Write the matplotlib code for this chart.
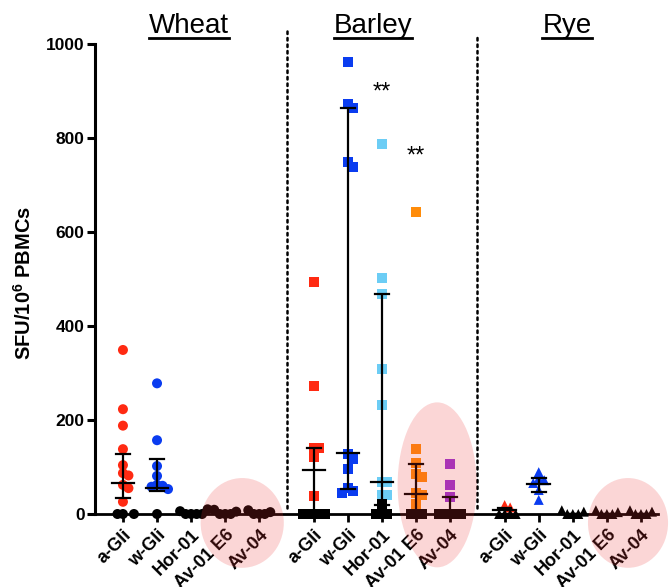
import numpy as np
import matplotlib as mpl
import matplotlib.pyplot as plt
from matplotlib.patches import Ellipse
from matplotlib.lines import Line2D

# categories per grain
grains = ['Wheat', 'Barley', 'Rye']
peptides = ['a-Gli', 'w-Gli', 'Hor-01', 'Av-01 E6', 'Av-04']
pep_colors = ['#ff2a12', '#0a3cf0', '#6ccdf5', '#ff8c0a', '#9a36d6']
grain_markers = ['o', 's', '^']

# coloured responders and black (non-responder) values, SFU/10^6 PBMCs
wheat_vals = [[349, 223, 188, 138, 104, 87, 82, 62, 55, 26],
              [278, 157, 102, 81, 62, 60, 58, 53],
              [], [], []]
wheat_black = [[0, 0, 0], [0], [0, 0, 0, 0, 6, 10],
               [0, 0, 0, 5, 9], [0, 0, 0, 4, 8]]
barley_vals = [[494, 272, 141, 140, 121, 38],
               [961, 872, 863, 750, 739, 128, 117, 96, 55, 48, 45],
               [787, 503, 468, 308, 232, 69, 68, 40, 40],
               [642, 138, 108, 85, 79, 45, 40, 21],
               [106, 62, 37]]
barley_black = [[0, 0, 0, 0, 0], [], [21, 0, 0, 0], [0, 0, 0], [0, 0, 0, 0, 0]]
rye_vals = [[19, 14], [89, 76, 72, 66, 51, 30], [], [], []]
rye_black = [[0, 0, 0, 0], [], [0, 0, 0, 5, 8],
             [0, 0, 0, 4, 8], [0, 0, 0, 5, 8]]

# median and interquartile range
wheat_median = [67, 56, 0, 0, 0]
wheat_q1 = [34, 48, 0, 0, 0]
wheat_q3 = [128, 116, 0, 0, 0]
barley_median = [94, 130, 68, 42, 0]
barley_q1 = [0, 54, 20, 0, 0]
barley_q3 = [141, 863, 468, 106, 36]
rye_median = [8, 63, 0, 0, 0]
rye_q1 = [0, 47, 0, 0, 0]
rye_q3 = [12, 76, 0, 0, 0]

# significance marks (grain index, peptide index, height)
sig_marks = [(1, 2, 896), (1, 3, 760)]

all_vals = [wheat_vals, barley_vals, rye_vals]
all_black = [wheat_black, barley_black, rye_black]
all_median = [wheat_median, barley_median, rye_median]
all_q1 = [wheat_q1, barley_q1, rye_q1]
all_q3 = [wheat_q3, barley_q3, rye_q3]

group_step = 5.6
title_x = [1.94, 7.34, 13.03]

mpl.rcParams['font.family'] = 'Liberation Sans'
mpl.rcParams['mathtext.fontset'] = 'custom'
mpl.rcParams['mathtext.rm'] = 'Liberation Sans'
mpl.rcParams['mathtext.bf'] = 'Liberation Sans:bold'

W, H = 669, 587
fig = plt.figure(figsize=(W / 100, H / 100), dpi=100)
ax = fig.add_axes([95 / W, 1 - 514 / H, (658 - 95) / W, (514 - 44) / H])
ax.set_xlim(-0.82, 15.7)
ax.set_ylim(0, 1000)

for s in ['top', 'right']:
    ax.spines[s].set_visible(False)
ax.spines['left'].set_linewidth(2.2)
ax.spines['bottom'].set_linewidth(2.0)

positions = [g * group_step + i for g in range(3) for i in range(5)]
ax.set_xticks(positions)
ax.set_xticklabels(peptides * 3, rotation=45, ha='right', rotation_mode='anchor',
                   fontsize=13, fontweight='bold')
ax.set_yticks(range(0, 1001, 200))
ax.set_yticklabels([str(v) for v in range(0, 1001, 200)], fontsize=12.5, fontweight='bold')
ax.tick_params(axis='y', length=6, width=2.2, pad=1.5)
ax.tick_params(axis='x', length=6, width=2.0, pad=3)


def swarm(xc, vals, d):
    # simple deterministic beeswarm in pixel space
    pts = ax.transData.transform(np.column_stack([np.full(len(vals), xc), vals]))
    placed = []
    for px, py in pts:
        for k in range(60):
            off = ((k + 1) // 2) * d * (1 if k % 2 else -1)
            cand = px + off
            if all((cand - qx) ** 2 + (py - qy) ** 2 >= d * d for qx, qy in placed):
                break
        placed.append((cand, py))
    placed = np.array(placed).reshape(-1, 2)
    return ax.transData.inverted().transform(placed)[:, 0]


msize = 7.2
for g in range(3):
    for i in range(5):
        xc = g * group_step + i
        cv = all_vals[g][i]
        bv = all_black[g][i]
        vals = list(cv) + list(bv)
        cols = [pep_colors[i]] * len(cv) + ['black'] * len(bv)
        if vals:
            xs = swarm(xc, vals, 5.5)
            ax.scatter(xs, vals, s=msize ** 2, marker=grain_markers[g], c=cols,
                       linewidths=0, zorder=3, clip_on=False)
        med, lo, hi = all_median[g][i], all_q1[g][i], all_q3[g][i]
        ax.plot([xc, xc], [lo, hi], color='black', lw=1.6, zorder=4,
                solid_capstyle='butt', clip_on=False)
        ax.plot([xc - 0.33, xc + 0.33], [med, med], color='black', lw=1.6, zorder=4, clip_on=False)
        for v in (lo, hi):
            ax.plot([xc - 0.2, xc + 0.2], [v, v], color='black', lw=1.6, zorder=4, clip_on=False)

# dotted separators between grains
for g in range(2):
    xs = g * group_step + 4 + (group_step - 4) / 2
    ax.plot([xs, xs], [12, 1030 - g * 8], color='black', lw=1.8, ls=(0, (1, 1.6)),
            dash_capstyle='round', zorder=2, clip_on=False)

for g, pi, h in sig_marks:
    ax.text(g * group_step + pi, h, '**', ha='center', va='center', fontsize=17)

# pink highlight ellipses over the Av peptides
ell_specs = [(0, -19, 2.44, 191), (1, 62, 2.32, 351), (2, -19, 2.35, 191)]
for g, yc, w, h in ell_specs:
    xc = g * group_step + 3.5 + (0.12 if g else 0)
    e = Ellipse((xc, yc), w, h, facecolor='#ee3333', alpha=0.2, edgecolor='none',
                zorder=10, clip_on=False)
    ax.add_patch(e)

fig.text(24 / W, 1 - 283 / H, r'SFU/10$^{\mathbf{6}}$ PBMCs', rotation=90,
         ha='center', va='center', fontsize=14.5, fontweight='bold')

renderer = fig.canvas.get_renderer()
for g, name in enumerate(grains):
    xf = ax.transData.transform((title_x[g], 0))[0] / W
    t = fig.text(xf, 1 - 33 / H, name, ha='center', va='baseline', fontsize=20)
    bb = t.get_window_extent(renderer)
    yl = (H - 37.5) / H
    fig.add_artist(Line2D([bb.x0 / W, bb.x1 / W], [yl, yl], color='black', lw=2.0,
                          transform=fig.transFigure))

fig.savefig('out.png', dpi=100)
